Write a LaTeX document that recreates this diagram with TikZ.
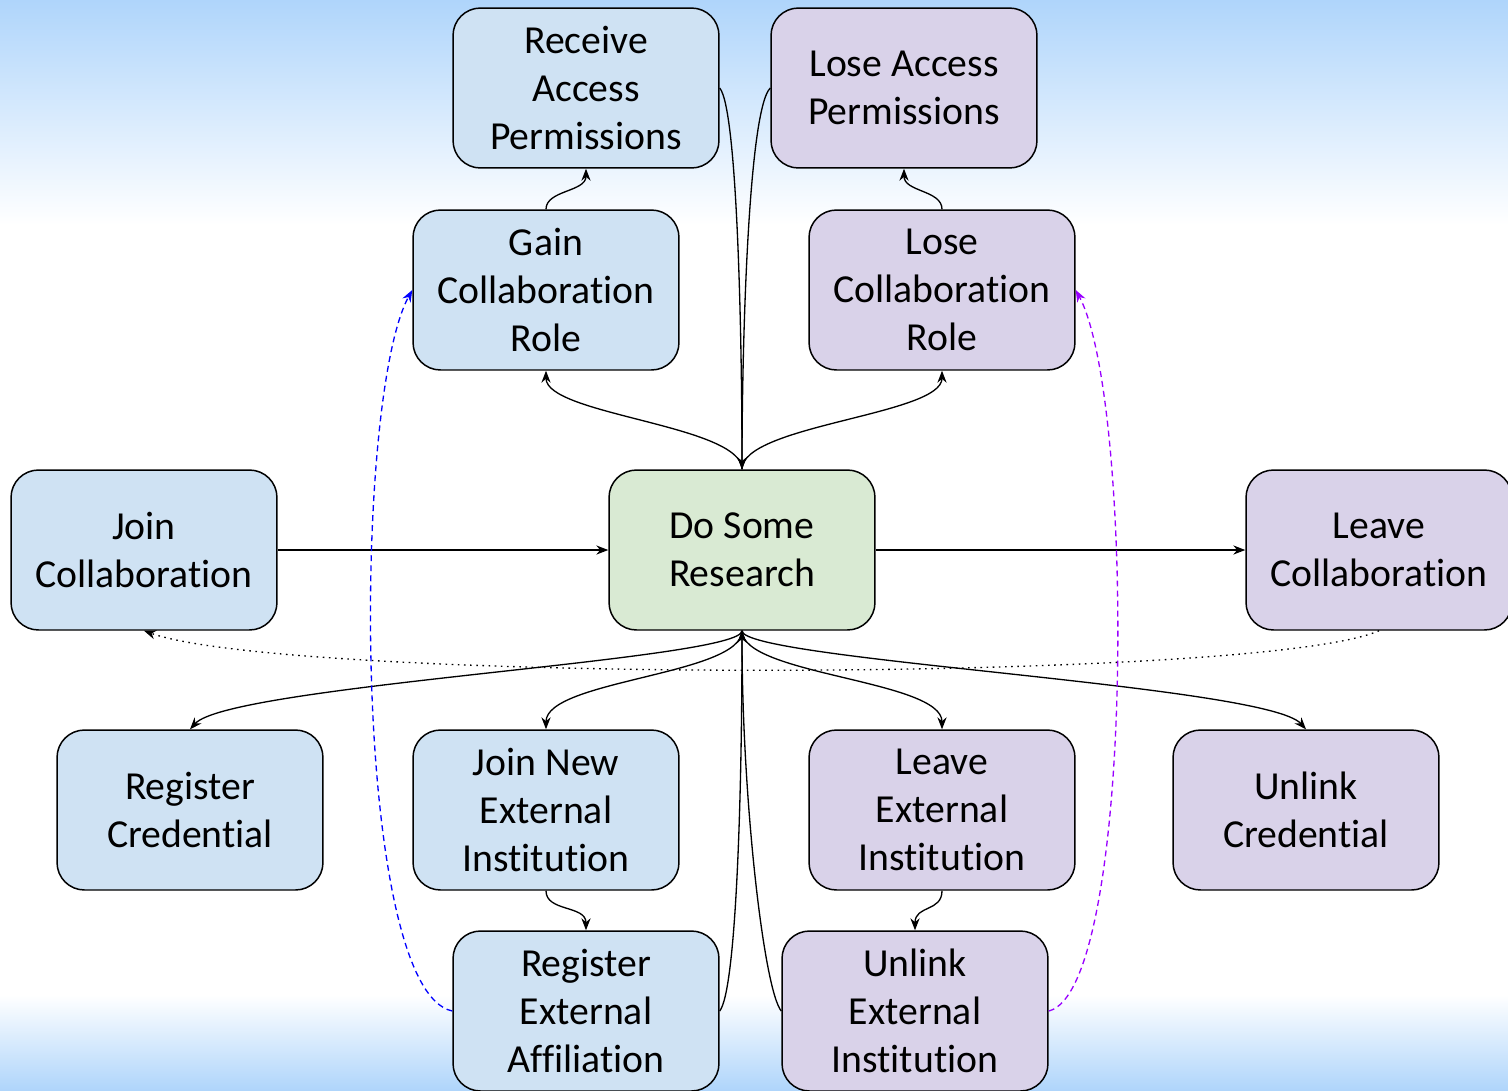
\documentclass[tikz,border=0pt]{standalone}
\usepackage{fontspec}
\setmainfont{Carlito}[Ligatures=NoCommon]
\usetikzlibrary{arrows.meta}
\definecolor{bgblue}{RGB}{175,213,251}
\definecolor{nblue}{HTML}{CFE2F3}
\definecolor{npurp}{HTML}{D9D2E9}
\definecolor{ngreen}{HTML}{D9EAD3}
\definecolor{dblue}{HTML}{0000FF}
\definecolor{dpurp}{HTML}{9900FF}
\begin{document}
\begin{tikzpicture}[x=0.02cm,y=-0.02cm,
  box/.style={draw=black,line width=0.85pt,rounded corners=0.55cm,minimum width=5.32cm,minimum height=3.2cm,align=center,inner sep=0pt,font=\fontsize{22.6}{27.3}\selectfont},
  bbox/.style={box,fill=nblue},
  pbox/.style={box,fill=npurp},
  gbox/.style={box,fill=ngreen},
  conn/.style={line width=0.75pt,-{Stealth[length=6.8pt,width=5.2pt]}},
  dashblue/.style={conn,draw=dblue,dash pattern=on 3.4pt off 2.3pt,-{Stealth[length=6.8pt,width=5.2pt,fill=dblue]}},
  dashpurp/.style={conn,draw=dpurp,dash pattern=on 3.4pt off 2.3pt,-{Stealth[length=6.8pt,width=5.2pt,fill=dpurp]}},
  dotconn/.style={conn,dash pattern=on 0.9pt off 2.6pt}
]
\useasboundingbox (0,0) rectangle (1508,1090);
\fill[white] (0,0) rectangle (1508,1090);
\shade[top color=bgblue,bottom color=white] (0,0) rectangle (1508,225);
\shade[top color=white,bottom color=bgblue] (0,995) rectangle (1508,1090);

\node[bbox] (recv) at (586,88) {Receive\\Access\\Permissions};
\node[pbox] (loseacc) at (904,88) {Lose Access\\Permissions};
\node[bbox] (gain) at (546,290) {Gain\\Collaboration\\Role};
\node[pbox] (loserole) at (942,290) {Lose\\Collaboration\\Role};
\node[bbox] (join) at (144,550) {Join\\Collaboration};
\node[gbox] (res) at (742,550) {Do Some\\Research};
\node[pbox] (leave) at (1379,550) {Leave\\Collaboration};
\node[bbox] (regcred) at (190,810) {Register\\Credential};
\node[bbox] (joinext) at (546,810) {Join New\\External\\Institution};
\node[pbox] (leaveext) at (942,810) {Leave\\External\\Institution};
\node[pbox] (unlcred) at (1306,810) {Unlink\\Credential};
\node[bbox] (regaff) at (586,1011) {Register\\External\\Affiliation};
\node[pbox] (unlext) at (915,1011) {Unlink\\External\\Institution};

% horizontal
\draw[conn] (join.east) -- (res.west);
\draw[conn] (res.east) -- (leave.west);

% upward from research
\draw[conn] (res.north) .. controls (742,425) and (546,415) .. (gain.south);
\draw[conn] (res.north) .. controls (742,425) and (942,415) .. (loserole.south);
\draw[conn] (gain.north) .. controls (546,190) and (586,192) .. (recv.south);
\draw[conn] (loserole.north) .. controls (942,190) and (904,192) .. (loseacc.south);
\draw[conn] (recv.east) .. controls (738,110) and (742,350) .. (res.north);
\draw[conn] (loseacc.west) .. controls (748,110) and (742,350) .. (res.north);

% downward from research
\draw[conn] (res.south) .. controls (742,660) and (230,685) .. (regcred.north);
\draw[conn] (res.south) .. controls (742,660) and (1266,685) .. (unlcred.north);
\draw[conn] (res.south) .. controls (742,675) and (546,680) .. (joinext.north);
\draw[conn] (res.south) .. controls (742,675) and (942,680) .. (leaveext.north);
\draw[conn] (regaff.east) .. controls (736,990) and (742,800) .. (res.south);
\draw[conn] (unlext.west) .. controls (764,990) and (742,800) .. (res.south);
\draw[conn] (joinext.south) .. controls (546,912) and (586,905) .. (regaff.north);
\draw[conn] (leaveext.south) .. controls (942,912) and (915,905) .. (unlext.north);

% dashed
\draw[dashblue] (regaff.west) .. controls (352,990) and (352,400) .. (gain.west);
\draw[dashpurp] (unlext.east) .. controls (1135,990) and (1135,400) .. (loserole.east);

% dotted
\draw[dotconn] (leave.south) .. controls (1260,683) and (290,683) .. (join.south);
\end{tikzpicture}
\end{document}
